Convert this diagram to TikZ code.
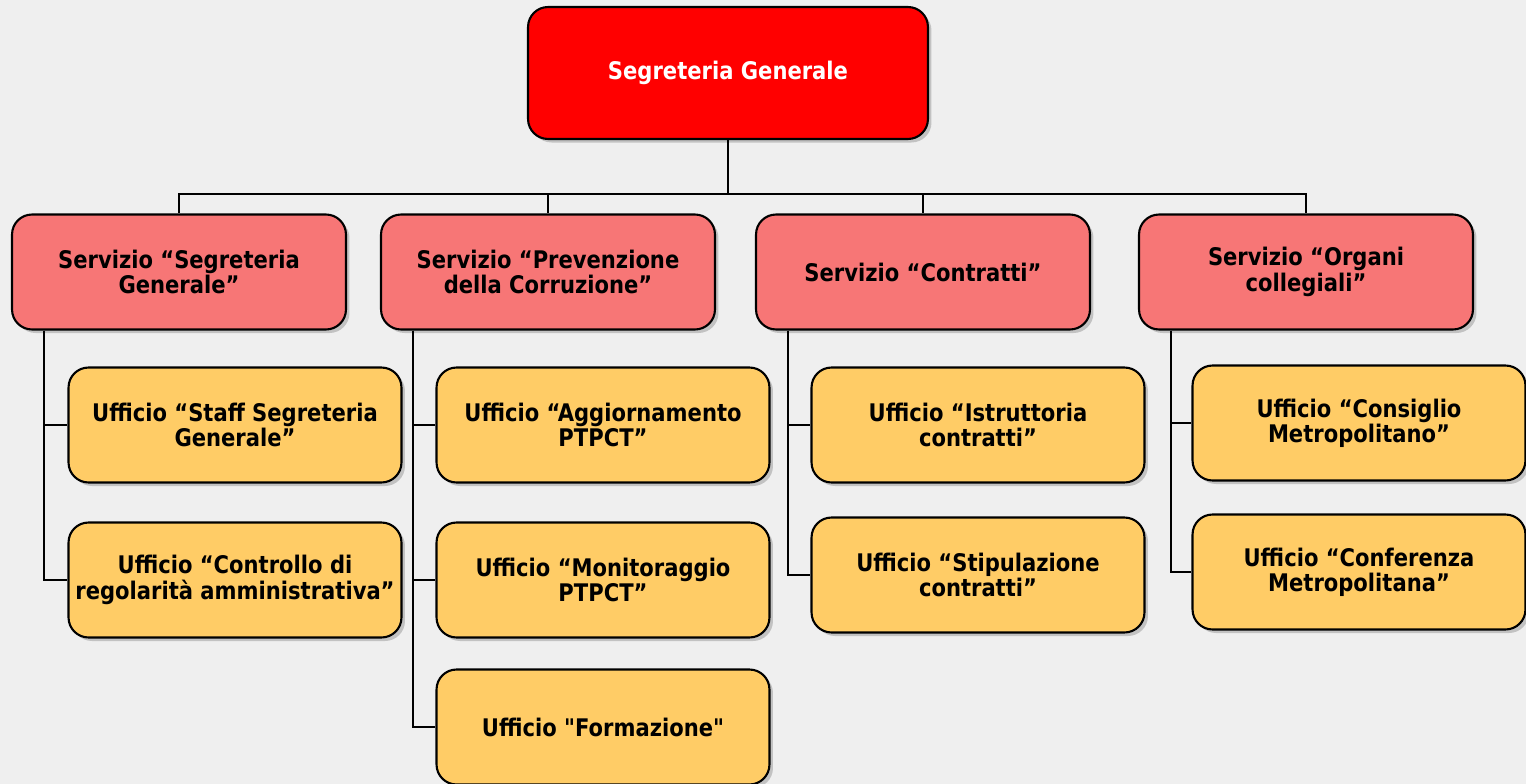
\documentclass[tikz,border=0pt]{standalone}
\usepackage{fontspec}
\setmainfont{DejaVu Sans}[Ligatures=TeXOff,FakeStretch=0.87]
\usetikzlibrary{shadows}
\definecolor{sfondo}{RGB}{239,239,239}
\definecolor{rossocapo}{RGB}{255,0,0}
\definecolor{rossoserv}{RGB}{247,118,118}
\definecolor{gialloufficio}{RGB}{255,204,102}
\begin{document}
\begin{tikzpicture}[x=0.02cm,y=-0.02cm,
  box/.style={draw,line width=1.2pt,rounded corners=0.4cm,align=center,
    font=\bfseries\fontsize{13.8}{14.4}\selectfont,
    drop shadow={opacity=0.4,shadow xshift=2pt,shadow yshift=-2pt}},
  capo/.style={box,fill=rossocapo,text=white,minimum width=8cm,minimum height=2.64cm},
  servizio/.style={box,fill=rossoserv,minimum width=6.68cm,minimum height=2.3cm},
  ufficio/.style={box,fill=gialloufficio,minimum width=6.66cm,minimum height=2.3cm},
  link/.style={line width=1.1pt}]
\fill[sfondo] (0,0) rectangle (1526,784);
\useasboundingbox (0,0) rectangle (1526,784);
\node[capo] (segr) at (728,73) {Segreteria Generale};
\node[servizio] (s1) at (179,272) {Servizio “Segreteria\\Generale”};
\node[servizio] (s2) at (548,272) {Servizio “Prevenzione\\della Corruzione”};
\node[servizio] (s3) at (923,272) {Servizio “Contratti”};
\node[servizio] (s4) at (1306,272) {Servizio “Organi\\collegiali”};
\node[ufficio] (o11) at (235,425) {Ufficio “Staff Segreteria\\Generale”};
\node[ufficio] (o12) at (235,580) {Ufficio “Controllo di\\regolarità amministrativa”};
\node[ufficio] (o21) at (603,425) {Ufficio “Aggiornamento\\PTPCT”};
\node[ufficio] (o22) at (603,580) {Ufficio “Monitoraggio\\PTPCT”};
\node[ufficio] (o23) at (603,727) {Ufficio "Formazione"};
\node[ufficio] (o31) at (978,425) {Ufficio “Istruttoria\\contratti”};
\node[ufficio] (o32) at (978,575) {Ufficio “Stipulazione\\contratti”};
\node[ufficio] (o41) at (1359,423) {Ufficio “Consiglio\\Metropolitano”};
\node[ufficio] (o42) at (1359,572) {Ufficio “Conferenza\\Metropolitana”};
\coordinate (bus) at (728,194);
\draw[link] (segr.south) -- (bus);
\foreach \s in {s1,s2,s3,s4}
  \draw[link] (bus) -| (\s.north);
\foreach \s/\u in {s1/o11,s1/o12,s2/o21,s2/o22,s2/o23,s3/o31,s3/o32,s4/o41,s4/o42}
  \draw[link] (\s.south west) ++(33,0) |- (\u.west);
\end{tikzpicture}
\end{document}
